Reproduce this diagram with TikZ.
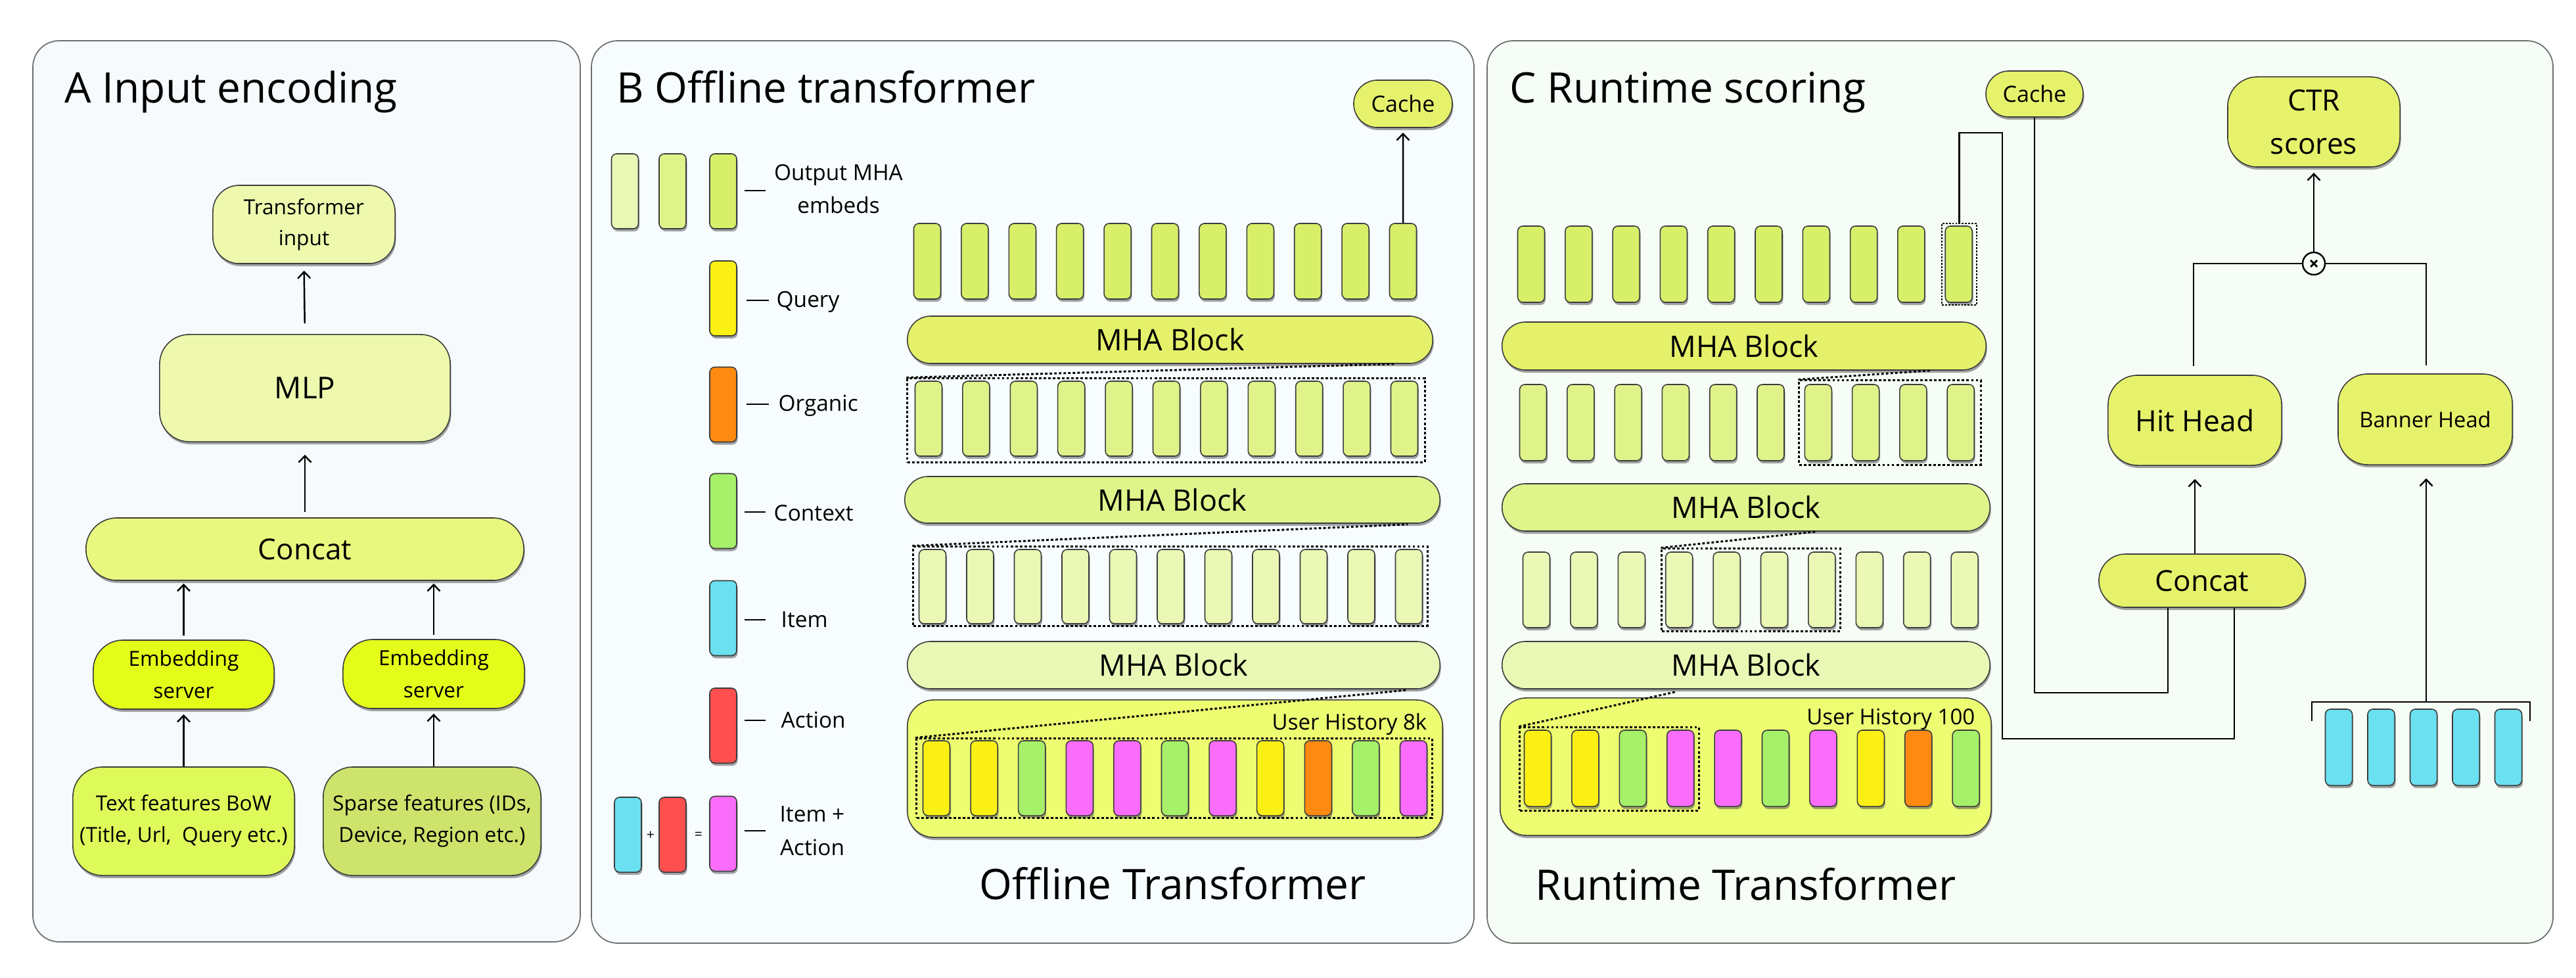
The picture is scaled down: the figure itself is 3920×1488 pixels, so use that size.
\documentclass[tikz,border=0pt]{standalone}
\usepackage{fontspec}
\setmainfont{Open Sans}
\usetikzlibrary{shadows,arrows.meta,calc}
\definecolor{pA}{HTML}{F6FAFC}
\definecolor{pB}{HTML}{F7FCFE}
\definecolor{pC}{HTML}{F5FDF6}
\definecolor{pBorder}{HTML}{6E6E6E}
\definecolor{nBorder}{HTML}{3C3C3C}
\definecolor{cBarA}{HTML}{D8EF6A}
\definecolor{cBarB}{HTML}{E0F38A}
\definecolor{cBarC}{HTML}{EAF7B5}
\definecolor{cMhaA}{HTML}{E5F16B}
\definecolor{cMhaB}{HTML}{E0F48C}
\definecolor{cMhaC}{HTML}{EAF8B6}
\definecolor{cUH}{HTML}{EDFD72}
\definecolor{cYel}{HTML}{FBF014}
\definecolor{cGrn}{HTML}{A6F06A}
\definecolor{cMag}{HTML}{FA6CFA}
\definecolor{cOrg}{HTML}{FF8A12}
\definecolor{cCyan}{HTML}{6BE0F0}
\definecolor{cRed}{HTML}{FF4F4F}
\definecolor{cNode}{HTML}{E6F26B}
\definecolor{cTI}{HTML}{EEF9AE}
\definecolor{cConA}{HTML}{E8F87E}
\definecolor{cEmb}{HTML}{E4FC1A}
\definecolor{cTxt}{HTML}{DEFA5A}
\definecolor{cSp}{HTML}{CDE36B}
\newcommand{\fsz}[2]{\fontsize{#1}{#2}\selectfont}
\begin{document}
\begin{tikzpicture}[x=0.01cm,y=-0.01cm,
  shad/.style={drop shadow={shadow xshift=0.015cm,shadow yshift=-0.04cm,opacity=0.55,fill=black!65}},
  box/.style={draw=nBorder,line width=0.45pt,shad,align=center,inner sep=0pt},
  bar/.style={box,rounded corners=0.08cm,minimum width=0.41cm,minimum height=1.15cm},
  mha/.style={box,rounded corners=0.355cm,minimum height=0.72cm,font=\fsz{12.8}{15}},
  pill/.style={box,fill=cNode},
  dotbox/.style={draw,line width=0.85pt,dash pattern=on 1.1pt off 0.9pt,inner sep=0pt},
  dotl/.style={line width=0.85pt,dash pattern=on 1.1pt off 0.9pt},
  conn/.style={line width=0.7pt},
  arr/.style={conn,-{Straight Barb[length=2.8pt,width=5.4pt]}},
  ttl/.style={anchor=base west,inner sep=0pt,font=\fsz{18.2}{22}},
  leg/.style={anchor=base west,inner sep=0pt,font=\fsz{9.5}{14.2}},
  legdash/.style={line width=0.7pt},
]
\useasboundingbox (0,0) rectangle (3920,1488);
% panels
\draw[draw=pBorder,line width=0.5pt,fill=pA,rounded corners=0.4cm] (50,62) rectangle (883,1433);
\draw[draw=pBorder,line width=0.5pt,fill=pB,rounded corners=0.4cm] (900,62) rectangle (2243,1435);
\draw[draw=pBorder,line width=0.5pt,fill=pC,rounded corners=0.4cm] (2263,62) rectangle (3885,1435);
\node[ttl] (tA) at (98,157) {A Input encoding};
\node[ttl] (tB) at (938,157) {B Offline transformer};
\node[ttl] (tC) at (2297,157) {C Runtime scoring};

% ---------------- Panel A
\node[box,fill=cTI,minimum width=2.77cm,minimum height=1.19cm,rounded corners=0.4cm,font=\fsz{9}{13.4}] (ti) at (462.5,341.5) {Transformer\\input};
\node[box,fill=cTI,minimum width=4.42cm,minimum height=1.63cm,rounded corners=0.45cm,font=\fsz{13}{16}] (mlp) at (464,590.5) {MLP};
\node[box,fill=cConA,minimum width=6.66cm,minimum height=0.95cm,rounded corners=0.47cm,font=\fsz{12.5}{15}] (conA) at (464,835.5) {Concat};
\node[box,fill=cEmb,minimum width=2.75cm,minimum height=1.05cm,rounded corners=0.45cm,font=\fsz{9}{14}] (embL) at (279.5,1026.5) {Embedding\\server};
\node[box,fill=cEmb,minimum width=2.76cm,minimum height=1.05cm,rounded corners=0.45cm,font=\fsz{9}{14}] (embR) at (660,1025.5) {Embedding\\server};
\node[box,fill=cTxt,minimum width=3.37cm,minimum height=1.65cm,rounded corners=0.45cm,font=\fsz{9}{13.7}] (txt) at (279.5,1249.5) {Text features BoW\\(Title, Url,~ Query etc.)};
\node[box,fill=cSp,minimum width=3.31cm,minimum height=1.65cm,rounded corners=0.45cm,font=\fsz{9}{13.7}] (sp) at (657.5,1249.5) {Sparse features (IDs,\\Device, Region etc.)};
\draw[arr,shorten >=0.07cm] (txt.north) -- (embL.south);
\draw[arr,shorten <=0.06cm,shorten >=0.04cm] (embL.north) -- (embL.north |- conA.south);
\draw[arr,shorten >=0.07cm] (embR.south |- sp.north) -- (embR.south);
\draw[arr,shorten <=0.06cm,shorten >=0.04cm] (embR.north) -- (embR.north |- conA.south);
\draw[arr,shorten <=0.08cm,shorten >=0.19cm] (conA.north) -- (mlp.south);
\draw[arr,shorten <=0.16cm,shorten >=0.10cm] (mlp.north) -- (ti.south);

% ---------------- Panel B legend
\node[bar,fill=cBarC,minimum height=1.14cm] (lo1) at (951,291) {};
\node[bar,fill=cBarB,minimum height=1.14cm] (lo2) at (1023.5,291) {};
\node[bar,fill=cBarA,minimum height=1.14cm] (lo3) at (1100.5,291) {};
\draw[legdash] (1133,290) -- (1165,290);
\node[font=\fsz{9.5}{14.2},align=center] (lot) at (1276,288) {Output MHA\\embeds};

\node[bar,fill=cYel,minimum height=1.14cm] (lq) at (1100.5,454) {};
\draw[legdash] (1136,457) -- (1170,457);
\node[leg] (lqt) at (1181,467) {Query};

\node[bar,fill=cOrg,minimum height=1.14cm] (lor) at (1100.5,615.5) {};
\draw[legdash] (1136,615) -- (1170,615);
\node[leg] (lort) at (1184,625) {Organic};

\node[bar,fill=cGrn,minimum height=1.14cm] (lc) at (1100.5,777.5) {};
\draw[legdash] (1133,779) -- (1165,779);
\node[leg] (lct) at (1177,792) {Context};

\node[bar,fill=cCyan,minimum height=1.14cm] (li) at (1100.5,940.5) {};
\draw[legdash] (1133,943) -- (1165,943);
\node[leg] (lit) at (1188,954) {Item};

\node[bar,fill=cRed,minimum height=1.14cm] (la) at (1100.5,1104) {};
\draw[legdash] (1133,1096) -- (1165,1096);
\node[leg] (lat) at (1188,1107) {Action};

\node[bar,fill=cCyan,minimum height=1.14cm] (lia1) at (955.5,1270) {};
\node[bar,fill=cRed,minimum height=1.14cm] (lia2) at (1023.5,1270) {};
\node[bar,fill=cMag,minimum height=1.14cm] (lia3) at (1100.5,1268.5) {};
\node[font=\fsz{6}{7}] (plus) at (990,1271) {+};
\node[font=\fsz{6}{7}] (eq) at (1063,1271) {=};
\draw[legdash] (1133,1264) -- (1165,1264);
\node[font=\fsz{9.5}{14.6},align=center] (liat) at (1236,1264) {Item +\\Action};

% ---------------- Panel B transformer
\node[box,fill=cUH,minimum width=8.14cm,minimum height=2.09cm,rounded corners=0.4cm] (uhB) at (1788,1169.5) {};
\node[anchor=base east,inner sep=0pt,font=\fsz{9.4}{11}] (uhBt) at (2172,1110) {User History 8k};
\foreach \c [count=\i from 0] in {cYel,cYel,cGrn,cMag,cMag,cGrn,cMag,cYel,cOrg,cGrn,cMag}
  \node[bar,fill=\c,minimum height=1.14cm] (hB\i) at (1425+72.6*\i,1184) {};
\foreach \i in {0,...,10} {
  \node[bar,fill=cBarA] (bA\i) at (1411+72.4*\i,397.5) {};
  \node[bar,fill=cBarB,minimum height=1.14cm] (bB\i) at (1413+72.4*\i,637) {};
  \node[bar,fill=cBarC,minimum height=1.13cm] (bC\i) at (1419+72.5*\i,892.5) {};
}
\node[mha,fill=cMhaA,minimum width=7.99cm] (mB1) at (1780.5,517) {MHA Block};
\node[mha,fill=cMhaB,minimum width=8.14cm,minimum height=0.71cm] (mB2) at (1784,760.5) {MHA Block};
\node[mha,fill=cMhaC,minimum width=8.10cm] (mB3) at (1786,1012) {MHA Block};
\node[dotbox,minimum width=7.87cm,minimum height=1.27cm] (dB2) at (1774.5,639.5) {};
\node[dotbox,minimum width=7.82cm,minimum height=1.20cm] (dB3) at (1781,892) {};
\node[dotbox,minimum width=7.84cm,minimum height=1.20cm] (dB4) at (1787,1184) {};
\draw[dotl] (dB2.north west) -- ($(mB1.south east)+(-60,0)$);
\draw[dotl] (dB3.north west) -- ($(mB2.south east)+(-50,1)$);
\draw[dotl] (dB4.north west) -- ($(mB3.south east)+(-50,1)$);
\node[pill,minimum width=1.50cm,minimum height=0.72cm,rounded corners=0.36cm,font=\fsz{9.7}{12}] (cacheB) at (2135,158) {Cache};
\draw[arr,shorten >=0.07cm] (bA10.north) -- (cacheB.south);
\node[anchor=base west,inner sep=0pt,font=\fsz{18.2}{22}] (offT) at (1490,1368) {Offline Transformer};

% ---------------- Panel C transformer
\node[box,fill=cUH,minimum width=7.47cm,minimum height=2.09cm,rounded corners=0.4cm] (uhC) at (2656.5,1166.5) {};
\node[anchor=base east,inner sep=0pt,font=\fsz{9.4}{11}] (uhCt) at (3006,1102) {User History 100};
\foreach \c [count=\i from 0] in {cYel,cYel,cGrn,cMag,cMag,cGrn,cMag,cYel,cOrg,cGrn}
  \node[bar,fill=\c,minimum height=1.16cm] (hC\i) at (2340+72.4*\i,1169) {};
\foreach \i in {0,...,9} {
  \node[bar,fill=cBarA,minimum height=1.16cm] (cA\i) at (2330+72.3*\i,402) {};
  \node[bar,fill=cBarB,minimum height=1.16cm] (cB\i) at (2333+72.3*\i,643) {};
  \node[bar,fill=cBarC,minimum height=1.15cm] (cC\i) at (2338+72.4*\i,897.5) {};
}
\node[mha,fill=cMhaA,minimum width=7.36cm,minimum height=0.73cm] (mC1) at (2654,526.5) {MHA Block};
\node[mha,fill=cMhaB,minimum width=7.42cm] (mC2) at (2657,772) {MHA Block};
\node[mha,fill=cMhaC,minimum width=7.42cm] (mC3) at (2657,1012) {MHA Block};
\node[draw,line width=0.4pt,dash pattern=on 0.8pt off 0.6pt,inner sep=0pt,minimum width=0.53cm,minimum height=1.24cm] (dC1) at (2981.5,402) {};
\node[dotbox,minimum width=2.76cm,minimum height=1.28cm] (dC2) at (2876,643) {};
\node[dotbox,minimum width=2.71cm,minimum height=1.25cm] (dC3) at (2664.5,897.5) {};
\node[dotbox,minimum width=2.72cm,minimum height=1.26cm] (dC4) at (2449,1170) {};
\draw[dotl] (dC2.north west) -- ($(mC1.south east)+(-86,0)$);
\draw[dotl] (dC3.north west) -- ($(mC2.south)+(108,0)$);
\draw[dotl] (dC4.north west) -- ($(mC3.south)+(-108,4)$);
\node[anchor=base west,inner sep=0pt,font=\fsz{18.2}{22}] (runT) at (2336,1369) {Runtime Transformer};

% ---------------- Panel C scoring
\node[pill,minimum width=1.48cm,minimum height=0.70cm,rounded corners=0.35cm,font=\fsz{9.7}{12}] (cacheC) at (3096,143) {Cache};
\node[pill,minimum width=2.62cm,minimum height=1.37cm,rounded corners=0.45cm,font=\fsz{12.6}{18.8}] (ctr) at (3521,185.5) {CTR\\scores};
\node[pill,minimum width=2.64cm,minimum height=1.37cm,rounded corners=0.45cm,font=\fsz{12.6}{15}] (hit) at (3340,639.5) {Hit Head};
\node[pill,minimum width=2.65cm,minimum height=1.38cm,rounded corners=0.45cm,font=\fsz{9.3}{12}] (ban) at (3690.5,638) {Banner Head};
\node[pill,minimum width=3.14cm,minimum height=0.81cm,rounded corners=0.405cm,font=\fsz{12.5}{15}] (concC) at (3351,883.5) {Concat};
\node[circle,draw,line width=0.7pt,fill=pC,minimum size=0.34cm,inner sep=0pt] (ot) at (3521,401) {};
\draw[line width=0.8pt] ($(ot.center)+(-5,-5)$) -- ($(ot.center)+(5,5)$) ($(ot.center)+(-5,5)$) -- ($(ot.center)+(5,-5)$);
\draw[arr,shorten >=0.08cm] (ot.north) -- (ctr.south);
\draw[conn] (ot.west) -| ($(hit.north)+(-2,-13)$);
\draw[conn] (ot.east) -| ($(ban.north)+(1.5,-12)$);
\draw[arr,shorten >=0.2cm] (hit.south |- concC.north) -- (hit.south);
\foreach \i in {0,...,4}
  \node[bar,fill=cCyan,minimum height=1.16cm] (cy\i) at (3559+64.5*\i,1137) {};
\draw[conn] (3518,1097) -- (3518,1068) -- (3850,1068) -- (3850,1097);
\coordinate (brk) at (3692,1068);
\draw[arr,shorten >=0.2cm] (brk) -- (brk |- ban.south);
\draw[conn] (cacheC.south) |- ($(concC.south)+(-52,129)$) -- ($(concC.south)+(-52,0)$);
\draw[conn] (dC1.north) |- (3047,202) |- ($(concC.south)+(49,199)$) -- ($(concC.south)+(49,0)$);
\end{tikzpicture}
\end{document}
